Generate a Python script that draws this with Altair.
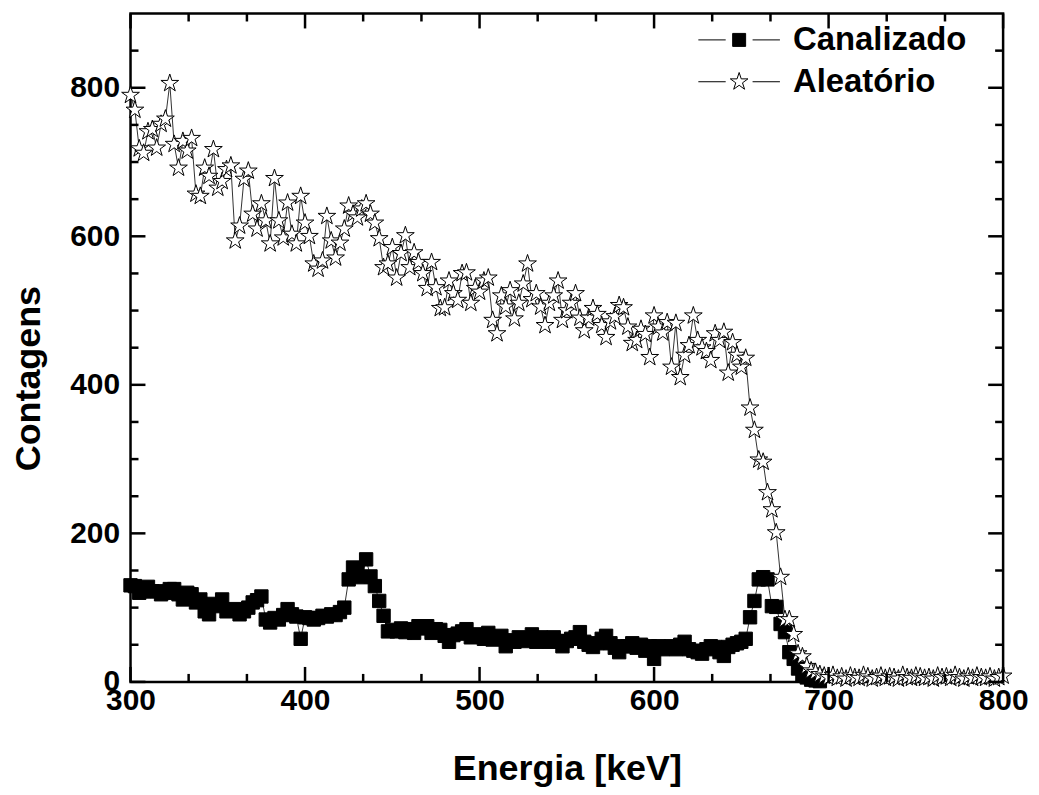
import altair as alt
import pandas as pd

# ---------------- data ----------------
series_names = ["Canalizado", "Aleatório"]

energia = [
    300.0, 302.5, 305.0, 307.5, 310.0, 312.5, 315.0, 317.5, 320.0, 322.5,
    325.0, 327.5, 330.0, 332.5, 335.0, 337.5, 340.0, 342.5, 345.0, 347.5,
    350.0, 352.5, 355.0, 357.5, 360.0, 362.5, 365.0, 367.5, 370.0, 372.5,
    375.0, 377.5, 380.0, 382.5, 385.0, 387.5, 390.0, 392.5, 395.0, 397.5,
    400.0, 402.5, 405.0, 407.5, 410.0, 412.5, 415.0, 417.5, 420.0, 422.5,
    425.0, 427.5, 430.0, 432.5, 435.0, 437.5, 440.0, 442.5, 445.0, 447.5,
    450.0, 452.5, 455.0, 457.5, 460.0, 462.5, 465.0, 467.5, 470.0, 472.5,
    475.0, 477.5, 480.0, 482.5, 485.0, 487.5, 490.0, 492.5, 495.0, 497.5,
    500.0, 502.5, 505.0, 507.5, 510.0, 512.5, 515.0, 517.5, 520.0, 522.5,
    525.0, 527.5, 530.0, 532.5, 535.0, 537.5, 540.0, 542.5, 545.0, 547.5,
    550.0, 552.5, 555.0, 557.5, 560.0, 562.5, 565.0, 567.5, 570.0, 572.5,
    575.0, 577.5, 580.0, 582.5, 585.0, 587.5, 590.0, 592.5, 595.0, 597.5,
    600.0, 602.5, 605.0, 607.5, 610.0, 612.5, 615.0, 617.5, 620.0, 622.5,
    625.0, 627.5, 630.0, 632.5, 635.0, 637.5, 640.0, 642.5, 645.0, 647.5,
    650.0, 652.5, 655.0, 657.5, 660.0, 662.5, 665.0, 667.5, 670.0, 672.5,
    675.0, 677.5, 680.0, 682.5, 685.0, 687.5, 690.0, 692.5, 695.0, 697.5,
    700.0, 702.5, 705.0, 707.5, 710.0, 712.5, 715.0, 717.5, 720.0, 722.5,
    725.0, 727.5, 730.0, 732.5, 735.0, 737.5, 740.0, 742.5, 745.0, 747.5,
    750.0, 752.5, 755.0, 757.5, 760.0, 762.5, 765.0, 767.5, 770.0, 772.5,
    775.0, 777.5, 780.0, 782.5, 785.0, 787.5, 790.0, 792.5, 795.0, 797.5,
    800.0,
]

aleatorio = [
    790, 770, 718, 712, 741, 744, 719, 751, 758, 806,
    724, 692, 728, 715, 732, 657, 654, 692, 681, 717,
    665, 674, 690, 695, 594, 614, 677, 688, 630, 610,
    644, 621, 590, 678, 621, 598, 645, 603, 590, 654,
    618, 600, 563, 556, 567, 627, 594, 571, 591, 610,
    641, 630, 625, 637, 644, 630, 618, 597, 558, 563,
    585, 544, 577, 601, 558, 578, 565, 550, 530, 565,
    531, 503, 504, 540, 523, 514, 550, 551, 510, 530,
    525, 540, 544, 487, 469, 520, 505, 527, 489, 510,
    536, 563, 515, 523, 505, 480, 510, 520, 540, 487,
    500, 510, 523, 490, 473, 490, 503, 495, 480, 464,
    485, 492, 507, 504, 478, 456, 460, 475, 468, 437,
    493, 478, 470, 484, 424, 483, 410, 440, 453, 493,
    460, 450, 445, 433, 469, 460, 471, 416, 457, 440,
    424, 436, 369, 339, 299, 296, 255, 232, 201, 141,
    84, 84, 64, 38, 34, 21, 15, 13, 10, 8,
    6, 9, 5, 7, 4, 8, 6, 5, 9, 7,
    4, 6, 8, 5, 7, 6, 4, 9, 6, 5,
    8, 7, 5, 6, 4, 8, 6, 7, 5, 9,
    6, 4, 7, 5, 8, 6, 5, 7, 4, 6,
    8,
]

canalizado = [
    130, 129, 120, 122, 128, 122, 122, 118, 120, 125,
    125, 118, 111, 120, 118, 107, 111, 95, 91, 105,
    102, 111, 95, 96, 98, 91, 95, 100, 107, 110,
    115, 84, 80, 86, 84, 90, 98, 91, 88, 58,
    87, 86, 84, 86, 89, 88, 91, 90, 94, 100,
    138, 154, 150, 141, 165, 142, 129, 109, 89, 68,
    70, 68, 72, 67, 71, 66, 75, 72, 75, 66,
    71, 70, 62, 54, 63, 65, 68, 71, 60, 64,
    62, 58, 66, 57, 60, 62, 48, 56, 54, 60,
    58, 55, 64, 54, 60, 57, 54, 60, 55, 48,
    55, 58, 60, 67, 54, 50, 47, 52, 58, 62,
    52, 46, 40, 48, 48, 52, 46, 50, 42, 48,
    31, 48, 44, 47, 48, 44, 50, 54, 44, 42,
    40, 38, 44, 48, 47, 40, 35, 47, 50, 52,
    54, 58, 87, 109, 138, 141, 138, 102, 101, 78,
    67, 40, 31, 18, 10, 6, 3, 2, 1,
]

x_major = [300, 400, 500, 600, 700, 800]
x_minor = [333.3, 366.7, 433.3, 466.7, 533.3, 566.7, 633.3, 666.7, 733.3, 766.7]
y_major = [0, 200, 400, 600, 800]
y_minor = [50, 100, 150, 250, 300, 350, 450, 500, 550, 650, 700, 750, 850]

# ---------------- build tables ----------------
df_c = pd.DataFrame({"E": energia[:len(canalizado)], "counts": canalizado, "serie": series_names[0]})
df_a = pd.DataFrame({"E": energia, "counts": aleatorio, "serie": series_names[1]})
df = pd.concat([df_c, df_a], ignore_index=True)

W, H = 876, 671
FONT = "Liberation Sans"
MAJ, MIN = 15, 8
TICK_W = 2.5

xs = alt.Scale(domain=[300, 800], nice=False, zero=False)
ys = alt.Scale(domain=[0, 900], nice=False, zero=False)

STAR = ("M0,-1L0.2245,-0.309L0.951,-0.309L0.3633,0.118L0.588,0.809L0,0.382"
        "L-0.588,0.809L-0.3633,0.118L-0.951,-0.309L-0.2245,-0.309Z")
LEG_SQ = "M-1.95,0H-0.643M0.643,0H1.95M-0.31,-0.31H0.31V0.31H-0.31Z"
LEG_STAR = ("M-1.95,0H-0.643M0.643,0H1.95"
            "M0,-0.443L0.0995,-0.137L0.421,-0.137L0.161,0.0523L0.26,0.358L0,0.169"
            "L-0.26,0.358L-0.161,0.0523L-0.421,-0.137L-0.0995,-0.137Z")

x_axis = alt.Axis(values=x_major, format="d", ticks=False, tickSize=0, domain=False, grid=False,
                  labelFont=FONT, labelFontSize=30, labelFontWeight="bold", labelColor="black",
                  labelPadding=4, labelFlush=False, labelOverlap=False,
                  title="Energia [keV]", titleFont=FONT, titleFontSize=36, titleFontWeight="bold",
                  titleColor="black", titleBaseline="middle", titleY=87)
y_axis = alt.Axis(values=y_major, format="d", ticks=False, tickSize=0, domain=False, grid=False,
                  labelFont=FONT, labelFontSize=30, labelFontWeight="bold", labelColor="black",
                  labelPadding=11, labelFlush=False, labelOverlap=False,
                  title="Contagens", titleFont=FONT, titleFontSize=36, titleFontWeight="bold",
                  titleColor="black", titleBaseline="middle", titleAlign="center",
                  titleX=-102, titleY=366)


def X():
    return alt.X("E:Q", scale=xs, axis=x_axis)


def Y():
    return alt.Y("counts:Q", scale=ys, axis=y_axis)


lines = alt.Chart(df).mark_line(color="black", strokeWidth=0.8).encode(
    x=X(), y=Y(), detail="serie:N", order="E:Q",
)

points_c = alt.Chart(df_c).mark_point(shape="square", filled=True, fill="black", stroke="black",
                                      strokeWidth=1, size=180, opacity=1).encode(x=X(), y=Y())
points_a = alt.Chart(df_a).mark_point(shape=STAR, filled=True, fill="white", stroke="black",
                                      strokeWidth=1, size=350, opacity=1).encode(x=X(), y=Y())

# legend: an empty layer whose shape/fill/stroke scales carry "line + marker" symbols
legend = alt.Legend(
    title=None, orient="none", legendX=589.5, legendY=5, padding=0,
    labelFont=FONT, labelFontSize=33, labelFontWeight="bold", labelColor="black",
    labelLimit=400, labelOffset=32.5, rowPadding=3, symbolSize=1764,
    symbolStrokeWidth=1, symbolStrokeColor="black", symbolOpacity=1,
)
legend_layer = alt.Chart(df).mark_point(filled=True, strokeWidth=1, opacity=1).encode(
    x=X(), y=Y(),
    shape=alt.Shape("serie:N", scale=alt.Scale(domain=series_names, range=[LEG_SQ, LEG_STAR]),
                    legend=legend),
    fill=alt.Fill("serie:N", scale=alt.Scale(domain=series_names, range=["black", "white"]),
                  legend=legend),
    stroke=alt.Stroke("serie:N", scale=alt.Scale(domain=series_names, range=["black", "black"]),
                      legend=legend),
).transform_filter("false")

# inward ticks on all four sides
xt_major = pd.DataFrame({"E": x_major})
xt_minor = pd.DataFrame({"E": x_minor})
yt_major = pd.DataFrame({"counts": y_major})
yt_minor = pd.DataFrame({"counts": y_minor})


def xticks(data, length):
    bottom = alt.Chart(data).mark_rule(color="black", strokeWidth=TICK_W).encode(
        x=X(), y=alt.value(H), y2=alt.value(H - length))
    top = alt.Chart(data).mark_rule(color="black", strokeWidth=TICK_W).encode(
        x=X(), y=alt.value(0), y2=alt.value(length))
    return [bottom, top]


def yticks(data, length):
    left = alt.Chart(data).mark_rule(color="black", strokeWidth=TICK_W).encode(
        y=Y(), x=alt.value(0), x2=alt.value(length))
    right = alt.Chart(data).mark_rule(color="black", strokeWidth=TICK_W).encode(
        y=Y(), x=alt.value(W), x2=alt.value(W - length))
    return [left, right]


tick_layers = xticks(xt_major, MAJ) + xticks(xt_minor, MIN) + yticks(yt_major, MAJ) + yticks(yt_minor, MIN)

chart = alt.layer(lines, points_c, points_a, legend_layer, *tick_layers).properties(
    width=W, height=H,
    autosize=alt.AutoSizeParams(type="none"),
    padding={"left": 123, "top": 4, "right": 28, "bottom": 106},
    background="white",
).configure_view(stroke="black", strokeWidth=2.5)

chart.save("out.html", embed_options={"renderer": "svg", "actions": False})
